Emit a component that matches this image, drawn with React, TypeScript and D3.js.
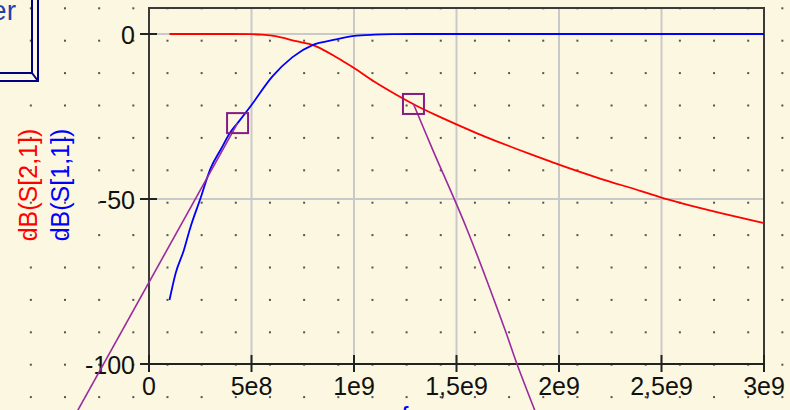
import React, { useEffect, useRef } from 'react';
import * as d3 from 'd3';

// frequency samples (Hz) and the two traces in dB
const redFreq = [1e8, 2e8, 3e8, 4e8, 5e8, 5.5e8, 6e8, 6.5e8, 7e8, 7.5e8, 8e8, 8.5e8, 9e8, 9.5e8, 1e9, 1.1e9, 1.2e9, 1.3e9, 1.4e9, 1.5e9, 1.6e9, 1.7e9, 1.8e9, 1.9e9, 2e9, 2.2e9, 2.4e9, 2.5e9, 2.6e9, 2.8e9, 3e9];
const s21 = [0, 0, 0, 0, -0.05, -0.2, -0.5, -1.1, -1.9, -2.6, -3.4, -4.8, -6.5, -8.4, -10.3, -14.5, -18.2, -21.6, -24.6, -27.4, -30.1, -32.6, -35, -37.3, -39.6, -43.8, -47.6, -49.6, -51.3, -54.4, -57.3];

const blueFreq = [1e8, 1.3e8, 1.7e8, 2e8, 2.5e8, 3e8, 3.5e8, 4e8, 4.32e8, 5e8, 6e8, 7e8, 8e8, 9e8, 1e9, 1.1e9, 1.2e9, 1.3e9, 2e9, 3e9];
const s11 = [-80.6, -72.5, -65.5, -59, -50, -40.8, -35, -29.5, -27, -21.5, -13, -7, -3.3, -1.8, -0.6, -0.2, -0.05, 0, 0, 0];

// marker positions
const markerFreq = [4.32e8, 1.29e9];
const markerDb = [-27, -21.2];

// purple marker lines
const line1Freq = [4.32e8, -3.9e8];
const line1Db = [-27, -118.8];
const line2Freq = [1.29e9, 1.38e9, 1.55e9, 1.737e9, 1.795e9, 1.912e9];
const line2Db = [-21.2, -34.5, -59, -89.7, -100, -118.8];

const xTicks = [0, 5e8, 1e9, 1.5e9, 2e9, 2.5e9, 3e9];
const xTickLabels = ['0', '5e8', '1e9', '1,5e9', '2e9', '2,5e9', '3e9'];
const yTicks = [0, -50, -100];
const yTickLabels = ['0', '-50', '-100'];

const W = 790;
const H = 410;
const FONT = 'Arial, "Liberation Sans", sans-serif';

const App = () => {
    const ref = useRef<SVGSVGElement>(null);

    useEffect(() => {
        const svg = d3.select(ref.current);
        svg.selectAll('*').remove();

        const x = d3.scaleLinear().domain([0, 3e9]).range([149, 764]);
        const y = d3.scaleLinear().domain([-100, 0]).range([364, 34]);
        const top = 8;

        svg.append('rect').attr('width', W).attr('height', H).attr('fill', '#fcf7e1');

        // schematic dot grid
        const dotX = d3.range(-1, 22).map((i) => 65 + i * 34.16);
        const dotY = d3.range(0, 13).map((j) => 8.3 + j * 32.4);
        const dots = svg.append('g').attr('fill', '#555');
        dotX.forEach((dx) => {
            dotY.forEach((dy) => {
                dots.append('rect').attr('x', dx - 1).attr('y', dy - 1).attr('width', 2).attr('height', 2);
            });
        });

        // title box (cut off at the corner)
        const box = svg.append('g').attr('fill', 'none').attr('stroke', '#000080').attr('stroke-width', 2);
        box.append('path').attr('d', 'M-5,73 L32,73 L32,-5');
        box.append('path').attr('d', 'M-5,81 L38,81 L38,-5 M32,73 L38,81');
        svg.append('text').attr('x', 16).attr('y', 20).attr('text-anchor', 'end')
            .attr('font-family', FONT).attr('font-size', 28).attr('fill', '#1d44a8').text('Filter');

        // gridlines
        const grid = svg.append('g').attr('stroke', '#c9c9c9').attr('stroke-width', 2);
        xTicks.slice(1, -1).forEach((t) => {
            grid.append('line').attr('x1', x(t)).attr('x2', x(t)).attr('y1', top).attr('y2', y(-100));
        });
        [0, -50].forEach((t) => {
            grid.append('line').attr('x1', x(0)).attr('x2', x(3e9)).attr('y1', y(t)).attr('y2', y(t));
        });

        // frame
        svg.append('path')
            .attr('d', `M${x(0)},${y(-100)} L${x(0)},${top} L${x(3e9)},${top} L${x(3e9)},${y(-100)}`)
            .attr('fill', 'none').attr('stroke', '#3a3a3a').attr('stroke-width', 2);
        svg.append('line').attr('x1', x(0)).attr('x2', x(3e9)).attr('y1', y(-100)).attr('y2', y(-100))
            .attr('stroke', '#222').attr('stroke-width', 2);

        // ticks and labels
        const ticks = svg.append('g').attr('stroke', '#222').attr('stroke-width', 2);
        xTicks.forEach((t) => {
            ticks.append('line').attr('x1', x(t)).attr('x2', x(t)).attr('y1', y(-100) - 9).attr('y2', y(-100) + 8);
        });
        yTicks.forEach((t) => {
            ticks.append('line').attr('x1', x(0) - 9).attr('x2', x(0) + 8).attr('y1', y(t)).attr('y2', y(t));
        });
        svg.append('g').selectAll('text').data(xTicks).enter().append('text')
            .attr('x', (d) => x(d)).attr('y', 395).attr('text-anchor', 'middle')
            .attr('font-family', FONT).attr('font-size', 25).attr('fill', '#111')
            .text((d, i) => xTickLabels[i]);
        svg.append('g').selectAll('text').data(yTicks).enter().append('text')
            .attr('x', 135).attr('y', (d) => y(d) + 10).attr('text-anchor', 'end')
            .attr('font-family', FONT).attr('font-size', 25).attr('fill', '#111')
            .text((d, i) => yTickLabels[i]);

        // axis titles
        svg.append('text').attr('transform', 'translate(37,185) rotate(-90)').attr('text-anchor', 'middle')
            .attr('font-family', FONT).attr('font-size', 25).attr('fill', '#ff0000').text('dB(S[2,1])');
        svg.append('text').attr('transform', 'translate(69,185) rotate(-90)').attr('text-anchor', 'middle')
            .attr('font-family', FONT).attr('font-size', 25).attr('fill', '#0000ff').text('dB(S[1,1])');
        svg.append('text').attr('x', (x(0) + x(3e9)) / 2).attr('y', 425).attr('text-anchor', 'middle')
            .attr('font-family', FONT).attr('font-size', 25).attr('fill', '#0000ff').text('frequency');

        // traces
        const line = d3.line<[number, number]>()
            .x((d) => x(d[0]))
            .y((d) => y(d[1]))
            .curve(d3.curveMonotoneX);
        svg.append('path').attr('d', line(redFreq.map((f, i) => [f, s21[i]] as [number, number])))
            .attr('fill', 'none').attr('stroke', '#ff0000').attr('stroke-width', 1.8);
        svg.append('path').attr('d', line(blueFreq.map((f, i) => [f, s11[i]] as [number, number])))
            .attr('fill', 'none').attr('stroke', '#0000ff').attr('stroke-width', 1.8);

        // marker lines
        const straight = d3.line<[number, number]>()
            .x((d) => x(d[0]))
            .y((d) => y(d[1]))
            .curve(d3.curveCatmullRom);
        svg.append('path').attr('d', straight(line1Freq.map((f, i) => [f, line1Db[i]] as [number, number])))
            .attr('fill', 'none').attr('stroke', '#9a2aa0').attr('stroke-width', 1.6);
        svg.append('path').attr('d', straight(line2Freq.map((f, i) => [f, line2Db[i]] as [number, number])))
            .attr('fill', 'none').attr('stroke', '#9a2aa0').attr('stroke-width', 1.6);

        // markers
        svg.append('g').selectAll('rect').data(markerFreq).enter().append('rect')
            .attr('x', (d) => x(d) - 10.5)
            .attr('y', (d, i) => y(markerDb[i]) - 10)
            .attr('width', 21).attr('height', 20)
            .attr('fill', 'none').attr('stroke', '#841c86').attr('stroke-width', 2);
    }, []);

    return (
        <svg ref={ref} width={W} height={H} style={{ position: 'absolute', left: 0, top: 0 }}>
        </svg>
    );
};

export default App;
